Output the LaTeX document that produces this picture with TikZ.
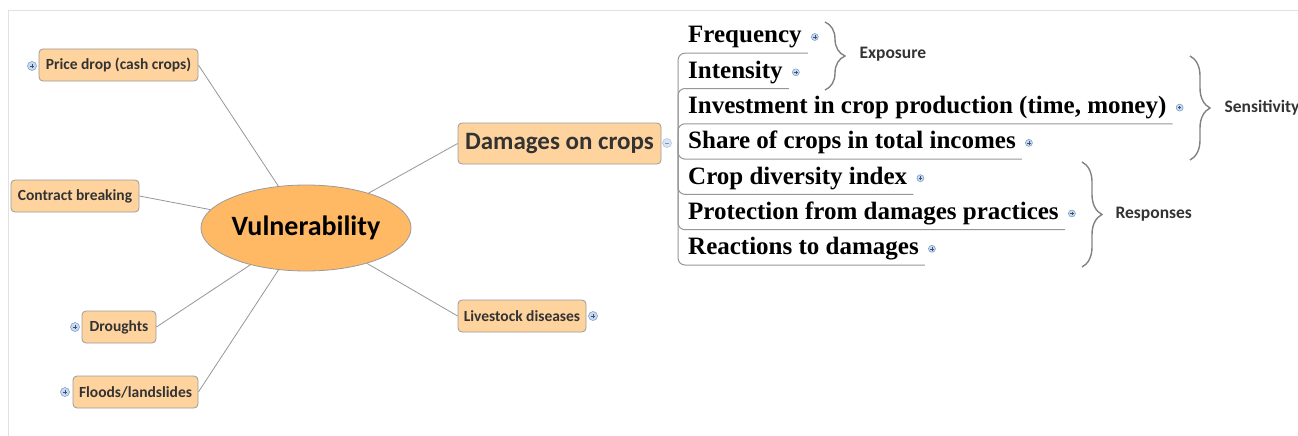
\documentclass[tikz,border=0pt]{standalone}
\usepackage{fontspec}
\setmainfont{Liberation Serif}
\newfontfamily\mapfont{Carlito}
\usetikzlibrary{shapes.geometric,decorations.pathreplacing}

\definecolor{boxfill}{RGB}{255,211,158}
\definecolor{corefill}{RGB}{255,185,100}
\definecolor{edgegray}{RGB}{155,155,155}
\definecolor{linkgray}{RGB}{150,150,150}
\definecolor{labeltext}{RGB}{51,51,51}
\definecolor{iconfill}{RGB}{200,218,240}
\definecolor{icondraw}{RGB}{120,150,195}
\definecolor{iconmark}{RGB}{60,80,120}
\definecolor{framegray}{RGB}{225,225,225}
\definecolor{bracegray}{RGB}{130,130,130}

\begin{document}
\begin{tikzpicture}[x=1pt,y=-1pt,
  topic/.style={draw=edgegray, fill=boxfill, rounded corners=4pt, line width=0.8pt,
    font=\mapfont\bfseries\fontsize{15.5}{18}\selectfont, text=labeltext,
    inner sep=0pt, minimum height=32pt},
  core/.style={ellipse, draw=edgegray, fill=corefill, line width=0.8pt, inner sep=0pt,
    minimum width=210pt, minimum height=86pt,
    font=\mapfont\bfseries\fontsize{28}{32}\selectfont, text=black},
  link/.style={draw=linkgray, line width=0.8pt},
  leaf/.style={anchor=base west, inner xsep=0pt, inner ysep=5pt,
    text height=17pt, text depth=5pt,
    font=\bfseries\fontsize{25}{29}\selectfont, text=black},
  branch/.style={draw=linkgray, line width=1pt, rounded corners=7pt},
  plusicon/.style={circle, draw=icondraw, fill=iconfill, minimum size=#1,
    inner sep=0pt, line width=0.5pt,
    path picture={\draw[iconmark, line width=0.6pt]
      ([xshift=-0.25*#1]path picture bounding box.center) -- ([xshift=0.25*#1]path picture bounding box.center)
      ([yshift=-0.25*#1]path picture bounding box.center) -- ([yshift=0.25*#1]path picture bounding box.center);}},
  plusicon/.default=9pt,
  minusicon/.style={circle, draw=icondraw!60, fill=iconfill!70, minimum size=9pt,
    inner sep=0pt, line width=0.5pt,
    path picture={\draw[icondraw, line width=0.6pt]
      ([xshift=-2.2pt]path picture bounding box.center) -- ([xshift=2.2pt]path picture bounding box.center);}},
  bracket/.style={draw=bracegray, line width=1.4pt,
    decorate, decoration={brace, amplitude=#1}},
  groupname/.style={anchor=west, font=\mapfont\bfseries\fontsize{17.5}{20}\selectfont, text=labeltext},
]
\useasboundingbox (0,0) rectangle (1298,436);

% sheet frame
\draw[framegray, line width=1pt] (1298,11) -- (8,11) -- (8,436);

% central topic
\node[core] (v) at (306,228) {Vulnerability};

% main branches
\node[topic, minimum width=159pt] (price) at (118.5,65) {Price drop (cash crops)};
\node[topic, minimum width=128pt] (contract) at (75,196) {Contract breaking};
\node[topic, minimum width=74pt] (drought) at (119,327) {Droughts};
\node[topic, minimum width=125pt] (flood) at (135.5,392) {Floods/landslides};
\node[topic, minimum width=203pt, minimum height=41pt,
      font=\mapfont\bfseries\fontsize{25}{29}\selectfont] (crops) at (559.5,143.5) {Damages on crops};
\node[topic, minimum width=128pt] (livestock) at (522,316) {Livestock diseases};

\draw[link] (price.east) -- (v);
\draw[link] (contract.east) -- (v);
\draw[link] (drought.east) -- (v);
\draw[link] (flood.east) -- (v);
\draw[link] (crops.west) -- (v);
\draw[link] (livestock.west) -- (v);

% collapse / expand markers
\node[plusicon] (price-i) at (32,66) {};
\node[plusicon] (drought-i) at (75,327) {};
\node[plusicon] (flood-i) at (65,392) {};
\node[plusicon] (livestock-i) at (593,316) {};
\node[minusicon] (crops-i) at (667,143) {};

% sub-branches of "Damages on crops"
\coordinate (hub) at (678,143);
\node[leaf] (c1) at (688,43.0) {Frequency};
\node[leaf] (c2) at (688,78.3) {Intensity};
\node[leaf] (c3) at (688,113.6) {Investment in crop production (time, money)};
\node[leaf] (c4) at (688,148.9) {Share of crops in total incomes};
\node[leaf] (c5) at (688,184.2) {Crop diversity index};
\node[leaf] (c6) at (688,219.5) {Protection from damages practices};
\node[leaf] (c7) at (688,254.8) {Reactions to damages};

\foreach \c in {c1,c2,c3,c4,c5,c6,c7}{
  \draw[branch] (hub) |- ([xshift=6pt]\c.south east);
  \node[plusicon=7pt] (\c-i) at ([xshift=13pt,yshift=6pt]\c.base east) {};
}

% grouping braces
\draw[bracket=20pt] (825,22) -- (825,90);
\node[groupname] (exposure) at (856,54) {Exposure};
\draw[bracket=20pt] (1190,56) -- (1190,160);
\node[groupname] (sensitivity) at (1221,108) {Sensitivity};
\draw[bracket=20pt] (1082,162) -- (1082,267);
\node[groupname] (responses) at (1112,214) {Responses};
\end{tikzpicture}
\end{document}
